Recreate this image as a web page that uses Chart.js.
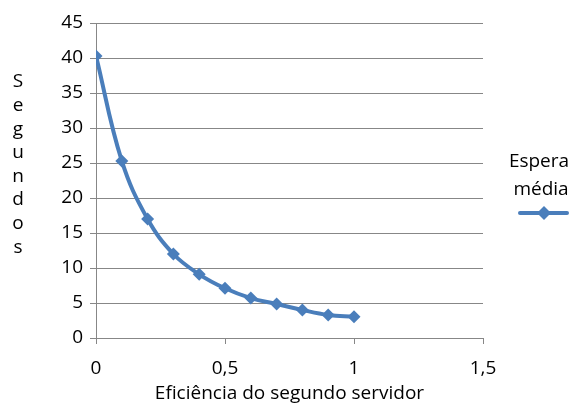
<!DOCTYPE html>
<html>
<head>
<meta charset="utf-8">
<script src="https://cdn.jsdelivr.net/npm/chart.js@4/dist/chart.umd.min.js"></script>
<style>
  html, body { margin: 0; padding: 0; background: #fff; }
  #wrap { width: 575px; height: 405px; position: relative; }
</style>
</head>
<body>
<div id="wrap"><canvas id="chart" width="575" height="405"></canvas></div>
<script>
// dados
const efficiency = [0, 0.1, 0.2, 0.3, 0.4, 0.5, 0.6, 0.7, 0.8, 0.9, 1];
const avgWait = [40.3, 25.3, 17.0, 12.0, 9.1, 7.1, 5.7, 4.85, 4.0, 3.3, 3.05];
const seriesLabel = ['Espera', 'média'];
const yTitle = 'Segundos';
const xTitle = 'Eficiência do segundo servidor';

const FONT = '"Open Sans", sans-serif';
const FSIZE = 19;
const BLUE = '#4A7EBB';
const GRID = '#878787';

// legenda + título vertical desenhados à mão (o Chart.js roda o título do eixo y)
const extras = {
  id: 'extras',
  afterDraw(chart) {
    const ctx = chart.ctx;
    ctx.save();
    ctx.fillStyle = '#000';
    ctx.font = FSIZE + 'px ' + FONT;
    ctx.textAlign = 'center';
    ctx.textBaseline = 'middle';
    // y title, one letter per line
    yTitle.split('').forEach((ch, i) => ctx.fillText(ch, 18, 82 + i * 23.6));
    // legend
    ctx.fillText(seriesLabel[0], 539, 162);
    ctx.fillText(seriesLabel[1], 541, 190);
    ctx.strokeStyle = BLUE;
    ctx.lineWidth = 4;
    ctx.lineCap = 'round';
    ctx.beginPath(); ctx.moveTo(520, 213); ctx.lineTo(567, 213); ctx.stroke();
    ctx.fillStyle = BLUE;
    ctx.beginPath();
    ctx.moveTo(544, 206); ctx.lineTo(551, 213); ctx.lineTo(544, 220); ctx.lineTo(537, 213);
    ctx.closePath(); ctx.fill();
    ctx.restore();
  }
};

const fmt = v => String(v).replace('.', ',');

new Chart(document.getElementById('chart').getContext('2d'), {
  type: 'line',
  data: {
    datasets: [{
      label: seriesLabel.join(' '),
      data: efficiency.map((x, i) => ({ x: x, y: avgWait[i] })),
      borderColor: BLUE,
      backgroundColor: BLUE,
      borderWidth: 4,
      tension: 0.4,
      pointStyle: 'rectRot',
      pointRadius: 6.5,
      pointBorderWidth: 0,
      fill: false
    }]
  },
  options: {
    responsive: false,
    animation: false,
    devicePixelRatio: 1,
    layout: { padding: { top: 23, right: 92, left: 0, bottom: 0 } },
    plugins: { legend: { display: false }, tooltip: { enabled: false } },
    scales: {
      x: {
        type: 'linear',
        min: 0, max: 1.5,
        border: { display: true, color: GRID, width: 1 },
        grid: { drawOnChartArea: false, drawTicks: true, tickLength: 6, color: GRID },
        ticks: { stepSize: 0.5, color: '#000', padding: 13, maxRotation: 0,
                 font: { family: FONT, size: FSIZE }, callback: v => fmt(v) },
        title: { display: true, text: xTitle, color: '#000', padding: { top: 0, bottom: 0 },
                 font: { family: FONT, size: FSIZE } },
        afterFit(s) { s.height = 67; }
      },
      y: {
        min: 0, max: 45,
        border: { display: true, color: GRID, width: 1 },
        grid: { color: GRID, tickLength: 6 },
        ticks: { stepSize: 5, color: '#000', padding: 7, font: { family: FONT, size: FSIZE } },
        afterFit(s) { s.width = 96; }
      }
    }
  },
  plugins: [extras]
});
</script>
</body>
</html>
